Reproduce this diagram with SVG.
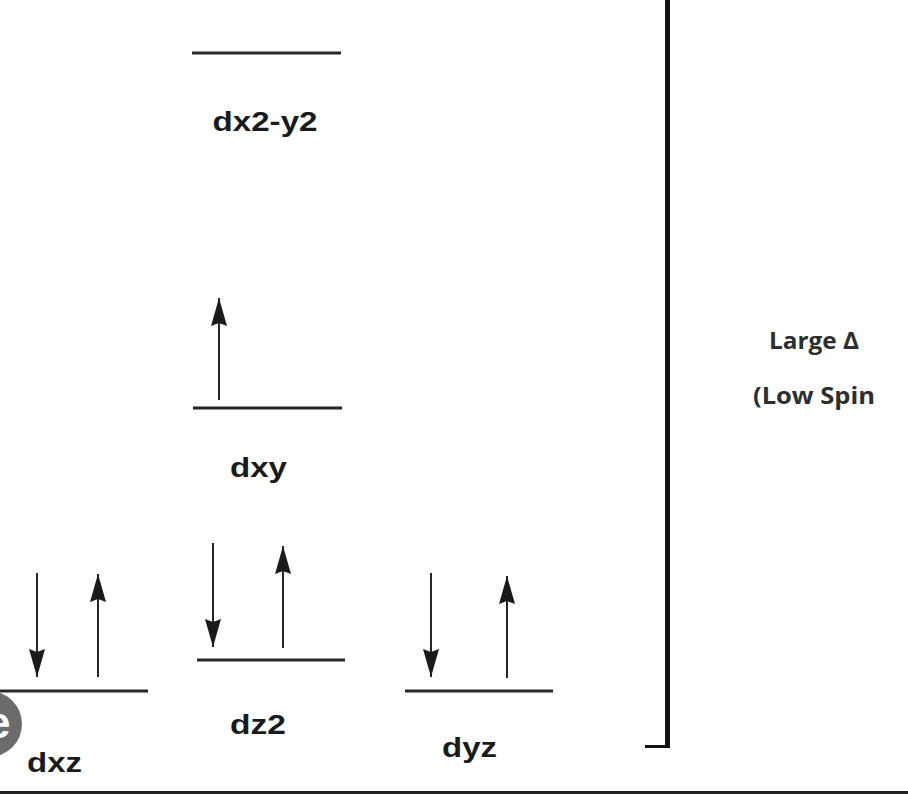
<svg xmlns="http://www.w3.org/2000/svg" width="908" height="794" viewBox="0 0 908 794">
<style>
.lvl{stroke:#262626;stroke-width:3;fill:none}
.arr{stroke:#262626;stroke-width:2;fill:none;marker-end:url(#head)}
.lab{font-family:"Liberation Sans",Arial,sans-serif;font-weight:bold;font-size:28px;fill:#1a1a1a}
.side{font-family:"Open Sans","Noto Sans",sans-serif;font-weight:700;font-size:24px;fill:#2e2e2e}
</style>
<defs>
<marker id="head" markerUnits="userSpaceOnUse" markerWidth="30" markerHeight="17" refX="28" refY="8" orient="auto">
<path d="M0,0 L28,8 L0,16 L3,8 z" fill="#1a1a1a"/>
</marker>
</defs>
<rect width="908" height="794" fill="#fff"/>
<g id="dx2-y2">
<line class="lvl" x1="192" y1="53" x2="341" y2="53"/>
<text class="lab" x="212.5" y="131" textLength="105" lengthAdjust="spacingAndGlyphs">dx2-y2</text>
</g>
<g id="dxy">
<line class="lvl" x1="193" y1="408" x2="342" y2="408"/>
<text class="lab" x="230" y="477" textLength="57" lengthAdjust="spacingAndGlyphs">dxy</text>
</g>
<g id="dz2">
<line class="lvl" x1="197" y1="660" x2="345" y2="660"/>
<text class="lab" x="230" y="734" textLength="56" lengthAdjust="spacingAndGlyphs">dz2</text>
</g>
<g id="dxz">
<line class="lvl" x1="0" y1="691" x2="148" y2="691"/>
<text class="lab" x="27" y="772" textLength="55" lengthAdjust="spacingAndGlyphs">dxz</text>
</g>
<g id="dyz">
<line class="lvl" x1="405" y1="691" x2="553" y2="691"/>
<text class="lab" x="442" y="757" textLength="55" lengthAdjust="spacingAndGlyphs">dyz</text>
</g>
<g id="connectors">
<line class="arr" x1="219" y1="400" x2="219" y2="298"/>
<line class="arr" x1="213" y1="543" x2="213" y2="647"/>
<line class="arr" x1="283" y1="648" x2="283" y2="546"/>
<line class="arr" x1="37" y1="573" x2="37" y2="677"/>
<line class="arr" x1="98" y1="677" x2="98" y2="574"/>
<line class="arr" x1="431" y1="573" x2="431" y2="677"/>
<line class="arr" x1="507" y1="678" x2="507" y2="576"/>
</g>
<g id="bracket">
<line x1="667.5" y1="0" x2="667.5" y2="748" stroke="#111" stroke-width="5"/>
<line x1="645" y1="746.5" x2="669" y2="746.5" stroke="#111" stroke-width="3"/>
</g>
<g id="label-side">
<text class="side" x="769" y="349" textLength="90" lengthAdjust="spacingAndGlyphs">Large Δ</text>
<text class="side" x="753" y="404" textLength="122" lengthAdjust="spacingAndGlyphs">(Low Spin</text>
</g>
<g id="logo">
<circle cx="-11" cy="724" r="33" fill="#6b6b6b"/>
<text x="-14" y="738" font-family="Liberation Sans,Arial,sans-serif" font-weight="bold" font-size="44" fill="#fff">e</text>
</g>
<rect x="0" y="791" width="908" height="3" fill="#222"/>
</svg>
